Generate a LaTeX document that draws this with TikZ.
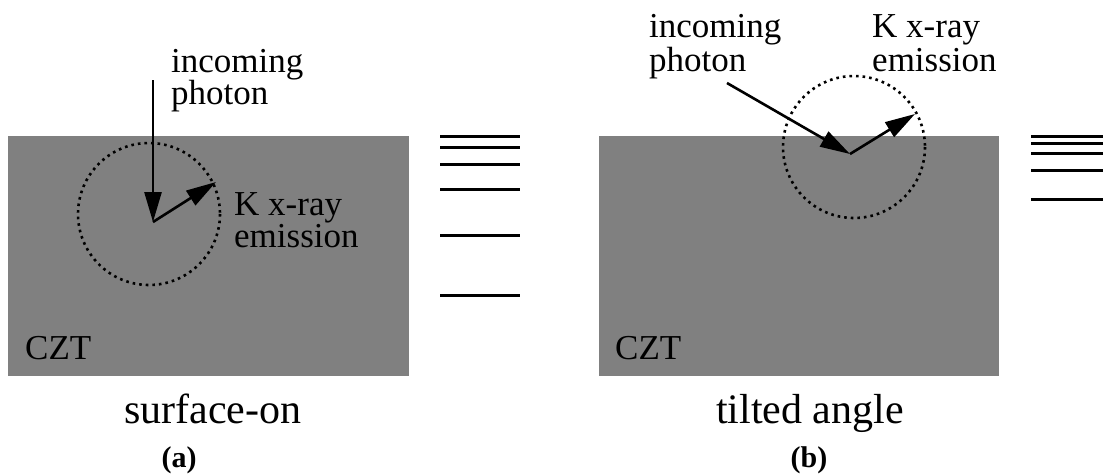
\documentclass[tikz,border=0pt]{standalone}
\usepackage{fontspec}
\setmainfont{Liberation Serif}
\usetikzlibrary{arrows.meta}
\begin{document}
\begin{tikzpicture}[x=1pt,y=-1pt,
  crystalbox/.style={fill=czt,draw=none},
  rayarrow/.style={line width=2.6pt,-{Triangle[length=30pt,width=17pt]}},
  shellcircle/.style={line width=2.6pt,dash pattern=on 2.6pt off 4pt},
  energybar/.style={line width=3pt},
  labeltxt/.style={inner sep=0pt,anchor=base west,font=\fontsize{35}{35}\selectfont},
  captiontxt/.style={inner sep=0pt,anchor=base,font=\fontsize{42}{42}\selectfont},
  paneltag/.style={inner sep=0pt,anchor=base,font=\bfseries\fontsize{30}{30}\selectfont}]
\definecolor{czt}{HTML}{808080}
\useasboundingbox (0,0) rectangle (1103,474);
% ---------- panel (a)
\fill[crystalbox] (8,136) rectangle (409,376);
\draw[shellcircle] (149,214) circle[radius=71];
\coordinate (a0) at (153,80);
\coordinate (av) at (153,222);
\coordinate (ae) at (216,182);
\draw[rayarrow] (a0) -- (av);
\draw[rayarrow] (av) -- (ae);
\node[labeltxt] (ainc) at (171,72) {incoming};
\node[labeltxt] (apho) at (171,104) {photon};
\node[labeltxt] (ak) at (234,215) {K x-ray};
\node[labeltxt] (aem) at (234,247) {emission};
\node[labeltxt] (aczt) at (25,359) {CZT};
\node[captiontxt] (acap) at (213,423) {surface-on};
\node[paneltag] (atag) at (179,467) {(a)};
\foreach \yy in {136,147,164,189,235,295}
  \draw[energybar] (440,\yy) -- (520,\yy);
% ---------- panel (b)
\fill[crystalbox] (599,136) rectangle (999,376);
\draw[shellcircle] (854,147) circle[radius=71];
\coordinate (b0) at (727,83);
\coordinate (bv) at (850,154);
\coordinate (be) at (915,114);
\draw[rayarrow] (b0) -- (bv);
\draw[rayarrow] (bv) -- (be);
\node[labeltxt] (binc) at (649,37) {incoming};
\node[labeltxt] (bpho) at (649,71) {photon};
\node[labeltxt] (bk) at (872,37) {K x-ray};
\node[labeltxt] (bem) at (872,71) {emission};
\node[labeltxt] (bczt) at (615,359) {CZT};
\node[captiontxt] (bcap) at (810,423) {tilted angle};
\node[paneltag] (btag) at (809,467) {(b)};
\foreach \yy in {136,143,153,170,199}
  \draw[energybar] (1031,\yy) -- (1103,\yy);
\end{tikzpicture}
\end{document}
